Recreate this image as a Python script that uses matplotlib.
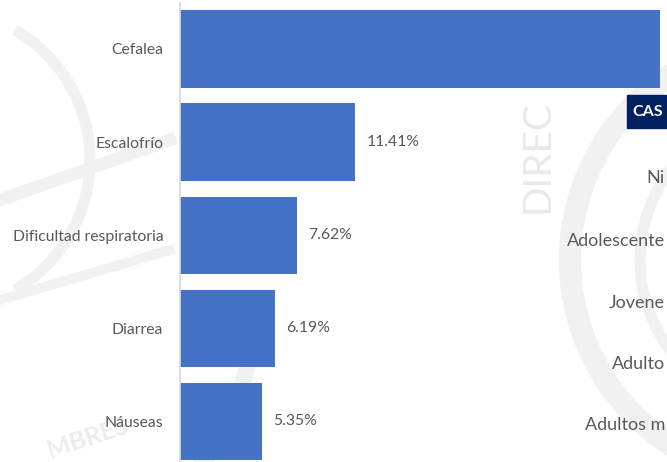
import matplotlib.pyplot as plt
from matplotlib.patches import Arc, Rectangle

# symptoms shown in this part of the chart (percent of cases)
sintomas = ['Cefalea', 'Escalofrío', 'Dificultad respiratoria', 'Diarrea', 'Náuseas']
porcentajes = [31.27, 11.41, 7.62, 6.19, 5.35]

# the side table that peeks in on the right (only the visible part)
tabla_titulo = 'CAS'
grupos_edad = ['Ni', 'Adolescente', 'Jovene', 'Adulto', 'Adultos m']

plt.rcParams['font.family'] = ['Lato', 'DejaVu Sans']
texto_gris = '#595959'
azul = '#4472C4'

fig = plt.figure(figsize=(6.67, 4.62), dpi=100)
W, H = 667, 462

# faint watermark behind everything
bg = fig.add_axes([0, 0, 1, 1], zorder=0)
bg.set_xlim(0, W)
bg.set_ylim(H, 0)
bg.axis('off')
wm = '#f1f1f1'
bg.add_patch(Arc((790, 260), 440, 440, theta1=90, theta2=270, color=wm, lw=16))
bg.add_patch(Arc((790, 260), 300, 300, theta1=100, theta2=260, color=wm, lw=8))
bg.add_patch(Arc((40, 330), 420, 420, theta1=-10, theta2=120, color=wm, lw=12))
bg.add_patch(Arc((-60, 160), 300, 300, theta1=-60, theta2=60, color=wm, lw=8))
bg.plot([0, 170], [200, 140], color=wm, lw=9)
bg.plot([0, 170], [300, 250], color=wm, lw=7)
bg.text(537, 157, 'DIREC', rotation=90, ha='center', va='center', fontsize=28,
        color='#e9e9e9')
bg.text(88, 438, 'MBRES', rotation=18, ha='center', va='center', fontsize=18,
        color='#ececec', fontweight='bold')

# side table text (cut by the image edge like the reference)
bg.add_patch(Rectangle((627, 95), 60, 33, color='#002060'))
bg.text(632, 112, tabla_titulo, color='white', fontsize=11.5, fontweight='bold',
        va='center', ha='left')
y_grupos = [178, 241, 303, 364, 425]
for g, yg in zip(grupos_edad, y_grupos):
    bg.text(665, yg, g, color=texto_gris, fontsize=13, va='center', ha='right')

# bar chart
ax = fig.add_axes([180 / W, 0, (W - 180) / W, 459 / H], zorder=1)
ax.patch.set_alpha(0)
y = range(len(sintomas))
ax.barh(y, porcentajes, height=0.83, color=azul)
ax.set_xlim(0, (W - 180) / 15.35)
ax.set_ylim(4.436, -0.494)
ax.set_yticks(list(y))
ax.set_yticklabels(sintomas, color=texto_gris, fontsize=11.3)
ax.tick_params(axis='y', length=0, pad=12)
ax.set_xticks([])
for s in ['top', 'right', 'bottom']:
    ax.spines[s].set_visible(False)
ax.spines['left'].set_color('#d9d9d9')
ax.spines['left'].set_linewidth(1.2)

# the first bar's label lies outside the visible crop, like the reference
for i, v in enumerate(porcentajes):
    if i == 0:
        continue
    ax.text(v + 0.75, i, f'{v:.2f}%', va='center', ha='left', color=texto_gris,
            fontsize=11.3)

fig.savefig('out.png', dpi=100)
